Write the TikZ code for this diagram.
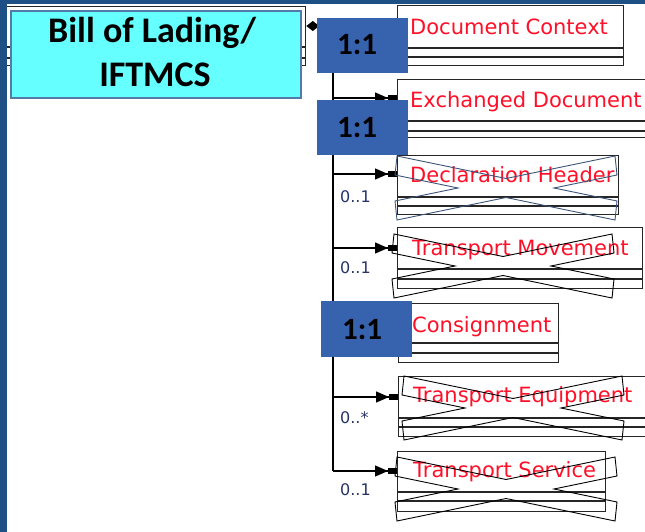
\documentclass[tikz,border=0pt]{standalone}
\usepackage{fontspec}
\setmainfont{Carlito}
\newfontfamily\umlfont{DejaVu Sans}
\usetikzlibrary{arrows.meta}

\definecolor{bandblue}{RGB}{31,80,133}
\definecolor{labelcyan}{RGB}{102,255,255}
\definecolor{labeledge}{RGB}{84,122,168}
\definecolor{tagblue}{RGB}{55,98,174}
\definecolor{multnavy}{RGB}{38,52,104}
\definecolor{slate}{RGB}{60,84,120}
\definecolor{umlred}{RGB}{255,16,40}

% UML class box: name, x, y (top left), width, height, two compartment lines (absolute y)
\newcommand\umlclass[7]{%
  \node[umlbox, minimum width=#4pt, minimum height=#5pt] (#1) at (#2,#3) {};
  \draw[umlline] (#1.west |- 0,#6) -- (#1.east |- 0,#6);
  \draw[umlline] (#1.west |- 0,#7) -- (#1.east |- 0,#7);}

% outlined multiplication sign striking out a class
\newcommand\strikeout[3][black]{%
  \draw[strike, draw=#1, shift={(#2,#3)}]
    (-109,-32) -- (0,-9.5) -- (109,-32) -- (111,-13) -- (48,0) -- (111,13)
    -- (109,32) -- (0,9.5) -- (-109,32) -- (-111,13) -- (-48,0) -- (-111,-13) -- cycle;}

\begin{document}
\begin{tikzpicture}[x=1pt, y=-1pt,
  umlbox/.style={draw=black!85, line width=1.3pt, anchor=north west, inner sep=0pt, fill=white},
  umlline/.style={draw=black!85, line width=1.3pt},
  umlname/.style={anchor=base west, inner sep=0pt, font=\umlfont\fontsize{21}{24}\selectfont, text=umlred},
  conn/.style={draw=black, line width=1.3pt},
  assoc/.style={conn, -{Triangle[length=13pt,width=11pt,sep=0pt]Rectangle[length=9pt,width=6pt]}},
  mult/.style={anchor=base west, inner sep=0pt, font=\umlfont\fontsize{16}{18}\selectfont, text=multnavy},
  tag/.style={fill=tagblue, anchor=north west, inner sep=0pt, minimum width=91pt, minimum height=55pt},
  tagtext/.style={anchor=base west, inner sep=0pt, font=\bfseries\fontsize{31}{34}\selectfont},
  titletext/.style={anchor=base, inner sep=0pt, font=\bfseries\fontsize{36}{44}\selectfont},
  strike/.style={line width=0.9pt, line join=miter}
]
\useasboundingbox (0,0) rectangle (645,532);
\clip (0,0) rectangle (645,532);
\fill[white] (0,0) rectangle (645,532);

% class boxes
\umlclass{parent}{5}{6}{300}{59}{47}{58}
\umlclass{docctx}{397}{5}{226}{60}{48}{57}
\umlclass{exchdoc}{397}{79}{262}{58}{121}{131}
\umlclass{declhdr}{397}{155}{221}{59}{197}{206}
\umlclass{transmov}{397}{227}{245}{61}{269}{279}
\umlclass{consign}{398}{303}{160}{59}{343}{353}
\umlclass{transeq}{398}{376}{262}{60}{418}{427}
\umlclass{transsv}{397}{451}{208}{60}{492}{501}

% class names
\node[umlname] at (410,35)  {Document Context};
\node[umlname] at (410,108) {Exchanged Document};
\node[umlname] at (410,182) {Declaration Header};
\node[umlname] at (412,255) {Transport Movement};
\node[umlname] at (412,332) {Consignment};
\node[umlname] at (413,402) {Transport Equipment};
\node[umlname] at (413,477) {Transport Service};

% composition tree
\coordinate (b1) at (333,26);
\coordinate (b2) at (333,98);
\coordinate (b3) at (333,174);
\coordinate (b4) at (333,248);
\coordinate (b5) at (333,324);
\coordinate (b6) at (333,397);
\coordinate (b7) at (333,471);
\draw[conn, {Diamond[length=13pt,width=10pt]}-{Triangle[length=13pt,width=11pt,sep=0pt]Rectangle[length=9pt,width=6pt]}]
  (parent.east |- b1) -- (b1 -| docctx.west);
\draw[conn] (b1) -- (b7);
\draw[assoc] (b2) -- (b2 -| exchdoc.west);
\draw[assoc] (b3) -- (b3 -| declhdr.west);
\draw[assoc] (b4) -- (b4 -| transmov.west);
\draw[assoc] (b5) -- (b5 -| consign.west);
\draw[assoc] (b6) -- (b6 -| transeq.west);
\draw[assoc] (b7) -- (b7 -| transsv.west);

% multiplicities
\node[mult] at (340,202) {0..1};
\node[mult] at (340,273) {0..1};
\node[mult] at (340,423) {0..*};
\node[mult] at (340,495) {0..1};

% struck-out classes
\strikeout[slate]{506}{188}
\strikeout{503}{266}
\strikeout{513}{408}
\strikeout{506}{489}

% slide frame bands
\fill[bandblue] (0,0) rectangle (645,4.5);
\fill[bandblue] (0,0) rectangle (7,532);

% title label
\node[draw=labeledge, line width=2pt, fill=labelcyan, anchor=north west,
      minimum width=290pt, minimum height=87pt, inner sep=0pt] (title) at (10,10) {};
\node[titletext] at (152,43) {Bill of Lading/};
\node[titletext] at (155,87) {IFTMCS};

% cardinality tags
\node[tag] (tag1) at (317,18) {};
\node[tag] (tag2) at (317,100) {};
\node[tag, minimum height=56pt] (tag3) at (321,301) {};
\node[tagtext] at (337,55)  {1:1};
\node[tagtext] at (337,138) {1:1};
\node[tagtext] at (342,339) {1:1};
\end{tikzpicture}
\end{document}
